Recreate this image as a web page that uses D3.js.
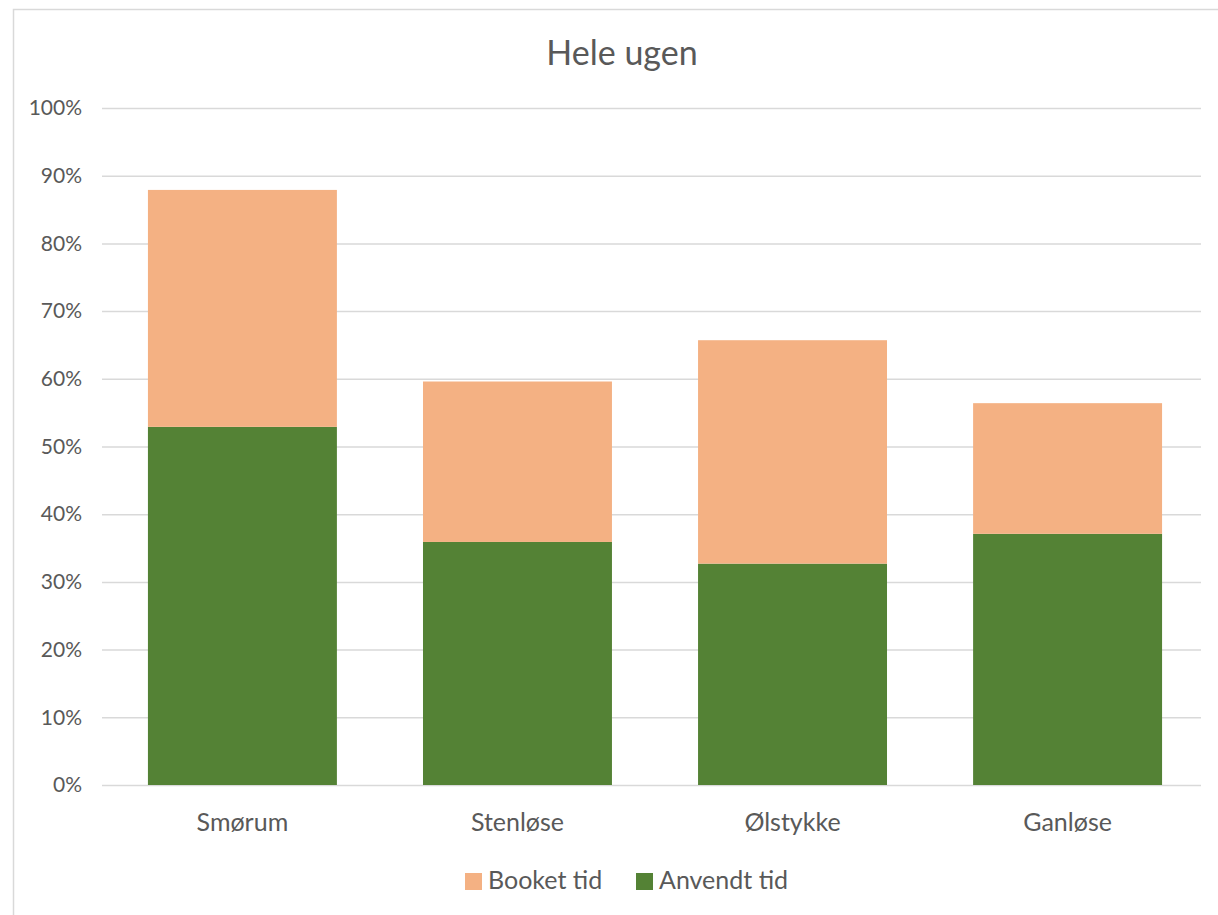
<!DOCTYPE html>
<html>
<head>
<meta charset="utf-8">
<script src="https://cdn.jsdelivr.net/npm/d3@7"></script>
<style>
    body { margin: 0; background: #fff; }
    #chart { width: 1218px; height: 915px; }
    text { font-family: Lato, "Open Sans", sans-serif; fill: #595959; }
</style>
</head>
<body>
<div id="chart"></div>
<script>
// data
const categories = ["Smørum", "Stenløse", "Ølstykke", "Ganløse"];
const anvendt = [0.529, 0.359, 0.327, 0.371];
const booket = [0.350, 0.237, 0.330, 0.193];
const seriesNames = ["Anvendt tid", "Booket tid"];
const yTicks = [0, 0.1, 0.2, 0.3, 0.4, 0.5, 0.6, 0.7, 0.8, 0.9, 1.0];

const width = 1218;
const height = 915;
const margin = {top: 108, left: 102, right: 17, bottom: 130};

const svg = d3.select("#chart")
    .append("svg")
    .attr("width", width)
    .attr("height", height);

// chart border
svg.append("rect")
    .attr("x", 13.5)
    .attr("y", 9.5)
    .attr("width", width + 20)
    .attr("height", height + 20)
    .attr("fill", "none")
    .attr("stroke", "#d9d9d9")
    .attr("stroke-width", 1.5);

const data = categories.map(function(c, i) {
    return {cat: c, "Anvendt tid": anvendt[i], "Booket tid": booket[i]};
});

const xScale = d3.scaleBand()
    .domain(categories)
    .range([margin.left, 1208])
    .paddingInner(0.313)
    .paddingOuter(0.167);

const yScale = d3.scaleLinear()
    .domain([0, 1])
    .range([785, margin.top]);

const fillScale = d3.scaleOrdinal()
    .domain(seriesNames)
    .range(["#548235", "#f4b183"]);

// gridlines + y labels
const yAxis = svg.append("g")
    .attr("transform", `translate(${margin.left},0)`)
    .call(d3.axisLeft(yScale)
        .tickValues(yTicks)
        .tickSize(-(width - margin.right - margin.left))
        .tickPadding(20)
        .tickFormat(d3.format(".0%")));

yAxis.select(".domain").remove();
yAxis.selectAll("line").attr("stroke", "#d9d9d9").attr("stroke-width", 1.5);
yAxis.selectAll("text")
    .attr("fill", "#595959")
    .style("font-size", "21px");

// stacked bars
const stack = d3.stack().keys(seriesNames);
const stacked = stack(data);

svg.selectAll("g.series")
    .data(stacked)
    .enter()
    .append("g")
        .attr("class", "series")
        .attr("fill", function(d) { return fillScale(d.key); })
    .selectAll("rect")
    .data(function(d) { return d; })
    .enter()
    .append("rect")
        .attr("x", function(d) { return xScale(d.data.cat); })
        .attr("y", function(d) { return yScale(d[1]); })
        .attr("width", xScale.bandwidth())
        .attr("height", function(d) { return yScale(d[0]) - yScale(d[1]); });

// x labels
svg.selectAll("text.cat")
    .data(categories)
    .enter()
    .append("text")
        .attr("class", "cat")
        .attr("x", function(d) { return xScale(d) + xScale.bandwidth() / 2; })
        .attr("y", 831)
        .attr("text-anchor", "middle")
        .style("font-size", "25px")
        .text(function(d) { return d; });

// title
svg.append("text")
    .attr("x", 622)
    .attr("y", 65)
    .attr("text-anchor", "middle")
    .style("font-size", "34px")
    .text("Hele ugen");

// legend
const legendItems = [
    {name: "Booket tid", x: 465},
    {name: "Anvendt tid", x: 636}
];
legendItems.forEach(function(item) {
    svg.append("rect")
        .attr("x", item.x)
        .attr("y", 873)
        .attr("width", 17)
        .attr("height", 17)
        .attr("fill", fillScale(item.name));
    svg.append("text")
        .attr("x", item.x + 23)
        .attr("y", 889)
        .style("font-size", "25px")
        .text(item.name);
});
</script>
</body>
</html>
